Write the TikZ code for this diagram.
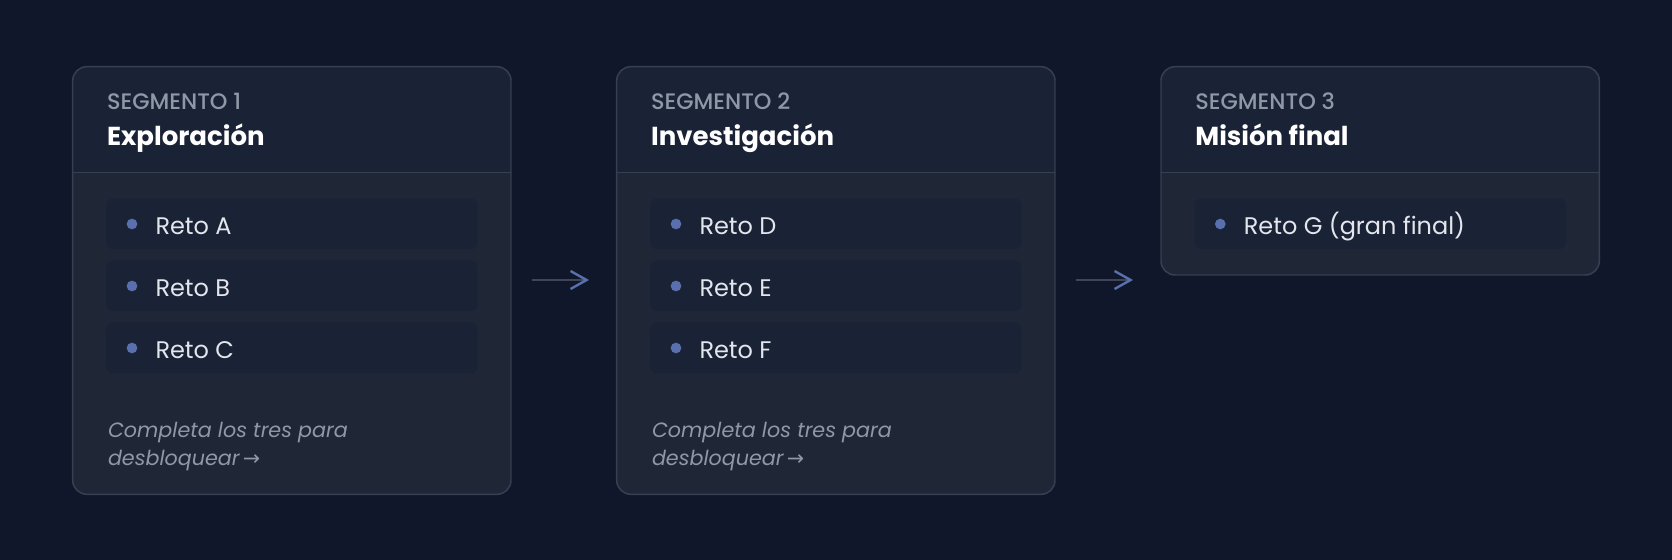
\documentclass[tikz,border=0pt]{standalone}
\usepackage{fontspec}
\setmainfont{Poppins}
\newfontfamily\medio{Poppins Medium}
\newfontfamily\simbolos{DejaVu Sans}
\usetikzlibrary{arrows.meta}

\definecolor{fondo}{HTML}{10172A}
\definecolor{cuerpo}{HTML}{1F2737}
\definecolor{cabeza}{HTML}{1A2235}
\definecolor{borde}{HTML}{364052}
\definecolor{pildora}{HTML}{1A2235}
\definecolor{punto}{HTML}{5A6FAE}
\definecolor{gris}{HTML}{9098A8}
\definecolor{claro}{HTML}{E3E6EC}
\definecolor{flecha}{HTML}{3D4759}

\tikzset{every picture/.style={line width=0.75pt}}

\begin{document}
\begin{tikzpicture}[x=0.75pt,y=0.75pt,yscale=-1,xscale=1,
	caja/.style={draw=borde,line width=1.1pt,rounded corners=10.5pt},
	pill/.style={fill=pildora,rounded corners=5.25pt},
	dot/.style={circle,fill=punto,inner sep=0pt,minimum size=8pt},
	etiq/.style={anchor=base west,inner sep=0pt,text=gris,font=\medio\fontsize{16.8}{20}\selectfont},
	titulo/.style={anchor=base west,inner sep=0pt,text=white,font=\bfseries\fontsize{19.5}{24}\selectfont},
	reto/.style={anchor=base west,inner sep=0pt,text=claro,font=\fontsize{18}{22}\selectfont},
	nota/.style={anchor=base west,inner sep=0pt,text=gris,align=left,font=\itshape\fontsize{15.5}{21}\selectfont},
	flujo/.style={draw=flecha,line width=1.8pt,-{Straight Barb[length=12pt,width=13.5pt,line width=1.8pt,color=punto]}}]
	%set diagram to 1672 x 560
	\fill[fondo] (0,0) rectangle (1672,560);
	\useasboundingbox (0,0) rectangle (1672,560);

	%Shape: Rounded Rect [id:seg1]
	\begin{scope}
	\clip[rounded corners=10.5pt] (72.7,66.7) rectangle (511,494.3);
	\fill[cuerpo] (72.7,66.7) rectangle (511,494.3);
	\fill[cabeza] (72.7,66.7) rectangle (511,172.7);
	\end{scope}
	\draw[draw=borde,line width=1.1pt] (72.7,172.7) -- (511,172.7);
	\draw[caja] (72.7,66.7) rectangle (511,494.3);
	%Shape: Rounded Rect [id:seg2]
	\begin{scope}
	\clip[rounded corners=10.5pt] (616.7,66.7) rectangle (1055,494.3);
	\fill[cuerpo] (616.7,66.7) rectangle (1055,494.3);
	\fill[cabeza] (616.7,66.7) rectangle (1055,172.7);
	\end{scope}
	\draw[draw=borde,line width=1.1pt] (616.7,172.7) -- (1055,172.7);
	\draw[caja] (616.7,66.7) rectangle (1055,494.3);
	%Shape: Rounded Rect [id:seg3]
	\begin{scope}
	\clip[rounded corners=10.5pt] (1161,66.7) rectangle (1599.3,275);
	\fill[cuerpo] (1161,66.7) rectangle (1599.3,275);
	\fill[cabeza] (1161,66.7) rectangle (1599.3,172.7);
	\end{scope}
	\draw[draw=borde,line width=1.1pt] (1161,172.7) -- (1599.3,172.7);
	\draw[caja] (1161,66.7) rectangle (1599.3,275);

	%Shape: Pills
	\fill[pill] (106.2,198.3) rectangle (477.7,249.3);
	\fill[pill] (106.2,260.3) rectangle (477.7,311.3);
	\fill[pill] (106.2,322.3) rectangle (477.7,373.3);
	\fill[pill] (650.2,198.3) rectangle (1021.7,249.3);
	\fill[pill] (650.2,260.3) rectangle (1021.7,311.3);
	\fill[pill] (650.2,322.3) rectangle (1021.7,373.3);
	\fill[pill] (1194.5,198.3) rectangle (1566,249.3);

	%Bullets
	\draw (132,224) node[dot] (pA) {};
	\draw (132,286) node[dot] (pB) {};
	\draw (132,348) node[dot] (pC) {};
	\draw (676,224) node[dot] (pD) {};
	\draw (676,286) node[dot] (pE) {};
	\draw (676,348) node[dot] (pF) {};
	\draw (1220.3,224) node[dot] (pG) {};

	%Straight Lines [id:flecha1]
	\coordinate (f1a) at (532,280);
	\coordinate (f1b) at (589,280);
	\draw[flujo] (f1a) -- (f1b);
	%Straight Lines [id:flecha2]
	\coordinate (f2a) at (1076,280);
	\coordinate (f2b) at (1133,280);
	\draw[flujo] (f2a) -- (f2b);

	% Text Node
	\draw (106.6,110) node[etiq] (lab1) {SEGMENTO 1};
	% Text Node
	\draw (106.6,145.7) node[titulo] (tit1) {Exploración};
	% Text Node
	\draw (650.6,110) node[etiq] (lab2) {SEGMENTO 2};
	% Text Node
	\draw (650.6,145.7) node[titulo] (tit2) {Investigación};
	% Text Node
	\draw (1194.9,110) node[etiq] (lab3) {SEGMENTO 3};
	% Text Node
	\draw (1194.9,145.7) node[titulo] (tit3) {Misión final};
	% Text Node
	\draw (155,234.3) node[reto] (rA) {Reto A};
	% Text Node
	\draw (155,296.3) node[reto] (rB) {Reto B};
	% Text Node
	\draw (155,358.3) node[reto] (rC) {Reto C};
	% Text Node
	\draw (699,234.3) node[reto] (rD) {Reto D};
	% Text Node
	\draw (699,296.3) node[reto] (rE) {Reto E};
	% Text Node
	\draw (699,358.3) node[reto] (rF) {Reto F};
	% Text Node
	\draw (1243.3,234.3) node[reto] (rG) {Reto G (gran final)};
	% Text Node
	\draw (107.5,465.7) node[nota] (nota1) {Completa los tres para\\desbloquear{\simbolos\,→}};
	% Text Node
	\draw (651.5,465.7) node[nota] (nota2) {Completa los tres para\\desbloquear{\simbolos\,→}};

\end{tikzpicture}
\end{document}
